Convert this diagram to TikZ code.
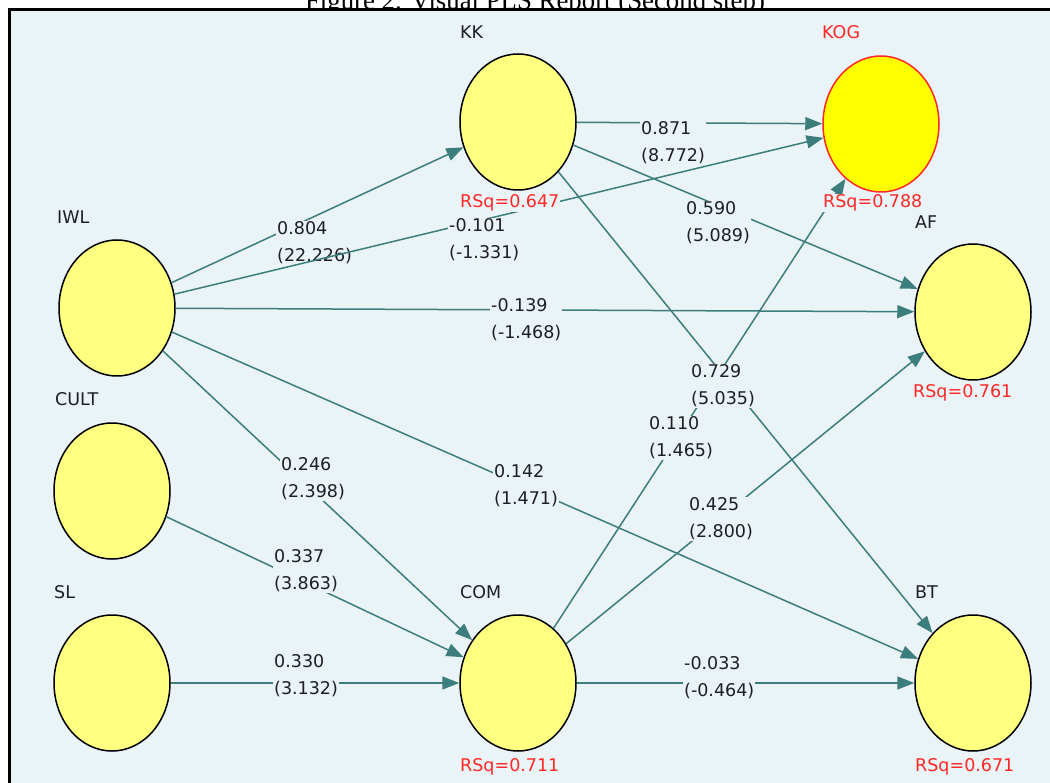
\documentclass[tikz,border=0pt]{standalone}
\usepackage{fontspec}
\setmainfont{DejaVu Sans}
\newfontfamily\titlefont{Liberation Serif}
\usetikzlibrary{arrows.meta,shapes.geometric}
\definecolor{bgc}{RGB}{234,243,245}
\definecolor{lvfill}{RGB}{255,255,128}
\definecolor{kogfill}{RGB}{255,255,0}
\definecolor{tealc}{RGB}{60,125,125}
\definecolor{txtc}{RGB}{30,30,40}
\definecolor{redc}{RGB}{255,40,40}
\begin{document}
\begin{tikzpicture}[x=1pt,y=-1pt,
  lv/.style={ellipse, draw=black, line width=1.5pt, fill=lvfill, minimum width=116pt, minimum height=136pt, inner sep=0pt},
  conn/.style={draw=tealc, line width=1.5pt, -{Triangle[length=17pt,width=13pt]}},
  lab/.style={font=\fontsize{17.5}{27}\selectfont, text=txtc, fill=bgc, inner sep=1pt, align=left, anchor=west},
  nm/.style={font=\fontsize{17.5}{20}\selectfont, text=txtc, anchor=west, inner sep=0pt},
  rsq/.style={font=\fontsize{17.5}{20}\selectfont, text=redc, fill=bgc, anchor=west, inner sep=1pt}]
\useasboundingbox (0,0) rectangle (1050,783);
\fill[white] (0,0) rectangle (1050,783);
\node[font=\titlefont\fontsize{26.8}{30}\selectfont, anchor=base, text=black] (title) at (535,10) {Figure 2. Visual PLS Report (Second step)};
\draw[fill=bgc, line width=3pt] (9.5,9.5) rectangle (1100,830);

% latent variables
\node[lv] (KK) at (518,122) {};
\node[lv, fill=kogfill, draw=redc] (KOG) at (881,124) {};
\node[lv] (IWL) at (117,308) {};
\node[lv] (AF) at (973,312) {};
\node[lv] (CULT) at (112,491) {};
\node[lv] (SL) at (112,683) {};
\node[lv] (COM) at (518,683) {};
\node[lv] (BT) at (973,683) {};

% connectors with labels
\draw[conn] (IWL) -- (KK);
\node[lab] (l1) at (276,243) {0.804\\(22.226)};
\draw[conn] (IWL) -- (KOG);
\node[lab] (l2) at (448,240) {-0.101\\(-1.331)};
\draw[conn] (KK) -- (KOG);
\node[lab] (l3) at (640,143) {0.871\\(8.772)};
\draw[conn] (KK) -- (AF);
\node[lab] (l4) at (685,223) {0.590\\(5.089)};
\draw[conn] (IWL) -- (AF);
\node[lab] (l6) at (490,320) {-0.139\\(-1.468)};
\draw[conn] (KK) -- (BT);
\draw[conn] (COM) -- (KOG);
\node[lab] (l5) at (690,386) {0.729\\(5.035)};
\node[lab] (l11) at (648,438) {0.110\\(1.465)};
\draw[conn] (IWL) -- (COM);
\node[lab] (l7) at (280,479) {0.246\\(2.398)};
\draw[conn] (IWL) -- (BT);
\node[lab] (l8) at (493,486) {0.142\\(1.471)};
\draw[conn] (COM) -- (AF);
\node[lab] (l12) at (688,519) {0.425\\(2.800)};
\draw[conn] (CULT) -- (COM);
\node[lab] (l9) at (273,571) {0.337\\(3.863)};
\draw[conn] (SL) -- (COM);
\node[lab] (l10) at (273,676) {0.330\\(3.132)};
\draw[conn] (COM) -- (BT);
\node[lab] (l13) at (683,678) {-0.033\\(-0.464)};

% names
\node[nm] (nKK) at (460,32) {KK};
\node[nm, text=redc] (nKOG) at (822,32) {KOG};
\node[nm] (nIWL) at (57,217) {IWL};
\node[nm] (nCULT) at (55,399) {CULT};
\node[nm] (nSL) at (54,592) {SL};
\node[nm] (nCOM) at (460,592) {COM};
\node[nm] (nBT) at (915,592) {BT};
\node[nm] (nAF) at (915,222) {AF};

% R squared
\node[rsq] (rKK) at (459,203) {RSq=0.647};
\node[rsq] (rKOG) at (822,203) {RSq=0.788};
\node[rsq] (rAF) at (912,393) {RSq=0.761};
\node[rsq] (rCOM) at (459,767) {RSq=0.711};
\node[rsq] (rBT) at (914,767) {RSq=0.671};
\end{tikzpicture}
\end{document}
